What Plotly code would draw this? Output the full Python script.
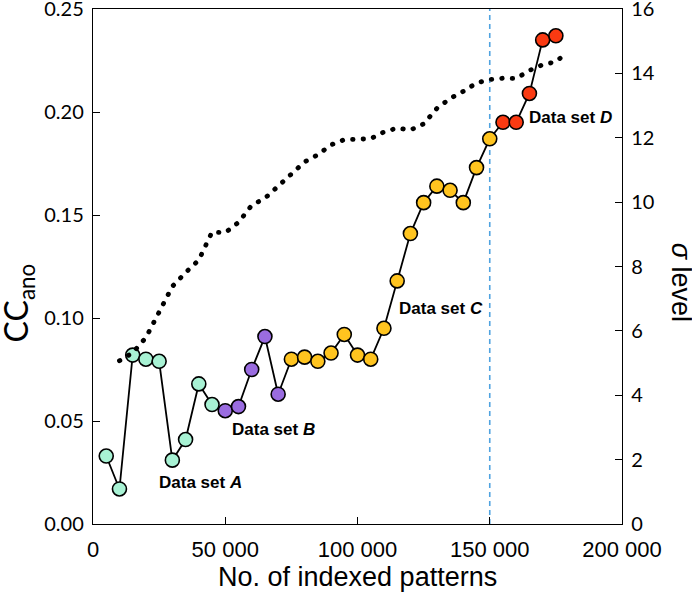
import plotly.graph_objects as go

# ---------------- data ----------------
patterns = [5000, 10000, 15000, 20000, 25000, 30000, 35000, 40000, 45000,
            50000, 55000, 60000, 65000, 70000,
            75000, 80000, 85000, 90000, 95000, 100000, 105000, 110000, 115000,
            120000, 125000, 130000, 135000, 140000, 145000, 150000,
            155000, 160000, 165000, 170000, 175000]
cc_ano = [0.033, 0.017, 0.082, 0.080, 0.079, 0.031, 0.041, 0.068, 0.058,
          0.055, 0.057, 0.075, 0.091, 0.063,
          0.080, 0.081, 0.079, 0.083, 0.092, 0.082, 0.080, 0.095, 0.118,
          0.141, 0.156, 0.164, 0.162, 0.156, 0.173, 0.187,
          0.195, 0.195, 0.209, 0.235, 0.237]
dataset = ["A", "A", "A", "A", "A", "A", "A", "A", "A",
           "B", "B", "B", "B", "B",
           "C", "C", "C", "C", "C", "C", "C", "C", "C",
           "C", "C", "C", "C", "C", "C", "C",
           "D", "D", "D", "D", "D"]

sigma_patterns = [10000, 15000, 20000, 25000, 30000, 35000, 40000, 45000, 50000,
                  55000, 60000, 65000, 70000, 75000, 80000, 85000, 90000, 95000,
                  100000, 105000, 110000, 115000, 120000, 125000, 130000, 135000,
                  140000, 145000, 150000, 155000, 160000, 165000, 170000, 175000,
                  178500]
sigma_level = [5.07, 5.32, 5.79, 6.60, 7.38, 7.81, 8.20, 9.07, 9.05,
               9.37, 9.90, 10.12, 10.51, 10.87, 11.25, 11.47, 11.78, 11.94,
               11.95, 11.97, 12.18, 12.30, 12.24, 12.43, 12.91, 13.22,
               13.44, 13.70, 13.81, 13.85, 13.84, 14.09, 14.27, 14.36,
               14.60]

cutoff_patterns = 150000

x_tickvals = [0, 50000, 100000, 150000, 200000]
x_ticktext = ["0", "50 000", "100 000", "150 000", "200 000"]
y_tickvals = [0, 0.05, 0.10, 0.15, 0.20, 0.25]
y2_tickvals = [0, 2, 4, 6, 8, 10, 12, 14, 16]

set_names = ["A", "B", "C", "D"]
set_label_x = [24300, 51800, 114800, 164200]
set_label_y = [0.020, 0.0457, 0.1046, 0.1974]

# ---------------- style ----------------
set_colors = {"A": "#A8F2D4", "B": "#9A6CE0", "C": "#FFC41F", "D": "#FA3A12"}
ARIAL = "Liberation Sans, Arial, sans-serif"
CALI = "Lato, Open Sans, sans-serif"

fig = go.Figure()

# sigma level dotted line (secondary axis)
fig.add_trace(go.Scatter(
    x=sigma_patterns, y=sigma_level, yaxis="y2", mode="lines",
    line=dict(color="black", width=4.8, dash="0.5px,10px"),
    hoverinfo="skip", showlegend=False))

# CC_ano connected markers
fig.add_trace(go.Scatter(
    x=patterns, y=cc_ano, mode="lines+markers",
    line=dict(color="black", width=1.8),
    marker=dict(size=14, color=[set_colors[d] for d in dataset],
                line=dict(color="black", width=1.6)),
    showlegend=False))

fig.add_shape(type="line", xref="x", yref="paper",
              x0=cutoff_patterns, x1=cutoff_patterns, y0=0, y1=1,
              line=dict(color="#4FA3E0", width=1.6, dash="5px,4px"), layer="below")

annotations = []
for name, lx, ly in zip(set_names, set_label_x, set_label_y):
    annotations.append(dict(
        x=lx, y=ly, xref="x", yref="y", xanchor="left", yanchor="middle",
        text=f"<b>Data set <i>{name}</i></b>", showarrow=False,
        font=dict(family=ARIAL, size=17, color="black")))

annotations.append(dict(
    x=-0.142, y=0.43, xref="paper", yref="paper", xanchor="center", yanchor="middle",
    text="CC<sub>ano</sub>", textangle=-90, showarrow=False,
    font=dict(family=CALI, size=32, color="black")))
annotations.append(dict(
    x=1.112, y=0.47, xref="paper", yref="paper", xanchor="center", yanchor="middle",
    text="<i>σ</i> level", textangle=90, showarrow=False,
    font=dict(family=ARIAL, size=27, color="black")))
annotations.append(dict(
    x=0.5, y=-0.102, xref="paper", yref="paper", xanchor="center", yanchor="middle",
    text="No. of indexed patterns", showarrow=False,
    font=dict(family=ARIAL, size=27, color="black")))

fig.update_layout(
    width=692, height=602,
    margin=dict(l=93, r=70, t=9, b=78, autoexpand=False),
    plot_bgcolor="white", paper_bgcolor="white",
    showlegend=False,
    annotations=annotations,
    xaxis=dict(range=[0, 200000], tickvals=x_tickvals, ticktext=x_ticktext,
               showline=True, linecolor="black", linewidth=1.4, mirror=True,
               ticks="inside", ticklen=7, tickwidth=1.2, tickcolor="black",
               showgrid=False, zeroline=False, ticklabelstandoff=5,
               tickfont=dict(family=ARIAL, size=22, color="black")),
    yaxis=dict(range=[0, 0.25], tickvals=y_tickvals, tickformat=".2f",
               showline=True, linecolor="black", linewidth=1.4,
               ticks="inside", ticklen=7, tickwidth=1.2, tickcolor="black",
               showgrid=False, zeroline=False, ticklabelstandoff=4,
               ticklabeloverflow="allow",
               tickfont=dict(family=CALI, size=20, color="black")),
    yaxis2=dict(range=[0, 16], tickvals=y2_tickvals, overlaying="y", side="right",
                showline=True, linecolor="black", linewidth=1.4,
                ticks="inside", ticklen=7, tickwidth=1.2, tickcolor="black",
                showgrid=False, zeroline=False, ticklabelstandoff=4,
                ticklabeloverflow="allow",
                tickfont=dict(family=CALI, size=20, color="black")),
)

post = """
document.body.style.margin = '0';
document.body.style.padding = '0';
document.documentElement.style.margin = '0';
document.body.style.overflow = 'hidden';
document.querySelectorAll('path.js-line').forEach(function(p){
  var d = p.style.strokeDasharray;
  if (d && d !== 'none' && d.indexOf('10') >= 0) { p.style.strokeLinecap = 'round'; }
});
"""
fig.write_html("out.html", post_script=post, config={"displayModeBar": False})
